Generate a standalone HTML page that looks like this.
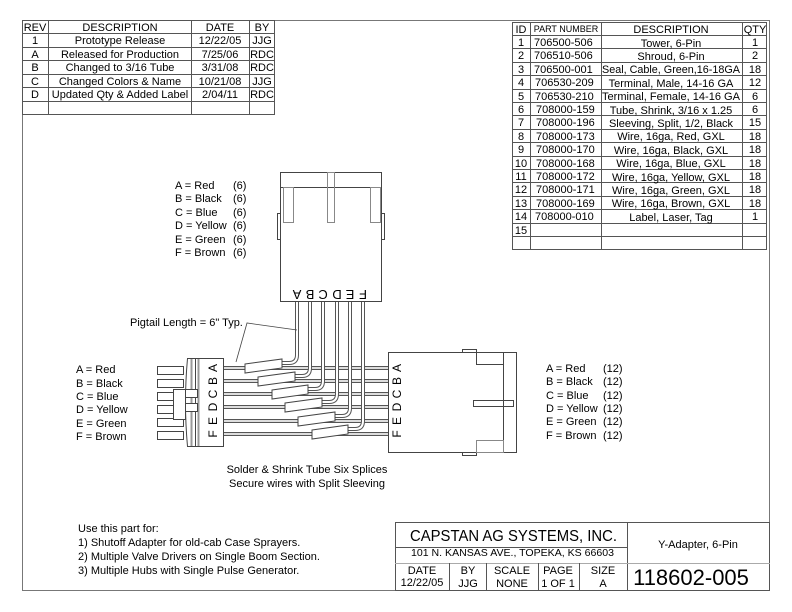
<!DOCTYPE html>
<html><head><meta charset="utf-8"><style>
html,body{margin:0;padding:0;background:#fff;}
svg{display:block;font-family:"Liberation Sans",sans-serif;}
text{fill:#000;}
</style></head><body>
<svg width="792" height="612" viewBox="0 0 792 612" xmlns="http://www.w3.org/2000/svg">
<!-- frame -->
<rect x="22.5" y="20.5" width="747" height="570" fill="none" stroke="#777" stroke-width="1"/>

<!-- REV table -->
<g stroke="#555" stroke-width="1" fill="none">
<rect x="22.5" y="20.5" width="252" height="94"/>
<line x1="48.5" y1="20" x2="48.5" y2="115"/>
<line x1="191.5" y1="20" x2="191.5" y2="115"/>
<line x1="249.5" y1="20" x2="249.5" y2="115"/>
<line x1="22" y1="33.5" x2="275" y2="33.5"/>
<line x1="22" y1="47.5" x2="275" y2="47.5"/>
<line x1="22" y1="60.5" x2="275" y2="60.5"/>
<line x1="22" y1="74.5" x2="275" y2="74.5"/>
<line x1="22" y1="87.5" x2="275" y2="87.5"/>
<line x1="22" y1="101.5" x2="275" y2="101.5"/>
</g>
<g font-size="11" text-anchor="middle">
<text x="35" y="31">REV</text><text x="120" y="31">DESCRIPTION</text><text x="220" y="31">DATE</text><text x="262" y="31">BY</text>
<text x="35" y="44">1</text><text x="120" y="44">Prototype Release</text><text x="220" y="44">12/22/05</text><text x="262" y="44">JJG</text>
<text x="35" y="58">A</text><text x="120" y="58">Released for Production</text><text x="220" y="58">7/25/06</text><text x="262" y="58">RDC</text>
<text x="35" y="71">B</text><text x="120" y="71">Changed to 3/16 Tube</text><text x="220" y="71">3/31/08</text><text x="262" y="71">RDC</text>
<text x="35" y="85">C</text><text x="120" y="85">Changed Colors &amp; Name</text><text x="220" y="85">10/21/08</text><text x="262" y="85">JJG</text>
<text x="35" y="98">D</text><text x="120" y="98">Updated Qty &amp; Added Label</text><text x="220" y="98">2/04/11</text><text x="262" y="98">RDC</text>
</g>

<!-- Parts table -->
<g stroke="#555" stroke-width="1" fill="none">
<rect x="512.5" y="22.5" width="254" height="227"/>
<line x1="530.5" y1="22" x2="530.5" y2="250"/>
<line x1="601.5" y1="22" x2="601.5" y2="250"/>
<line x1="742.5" y1="22" x2="742.5" y2="250"/>
<line x1="512" y1="35.5" x2="767" y2="35.5"/>
<line x1="512" y1="48.5" x2="767" y2="48.5"/>
<line x1="512" y1="62.5" x2="767" y2="62.5"/>
<line x1="512" y1="75.5" x2="767" y2="75.5"/>
<line x1="512" y1="89.5" x2="767" y2="89.5"/>
<line x1="512" y1="102.5" x2="767" y2="102.5"/>
<line x1="512" y1="115.5" x2="767" y2="115.5"/>
<line x1="512" y1="129.5" x2="767" y2="129.5"/>
<line x1="512" y1="142.5" x2="767" y2="142.5"/>
<line x1="512" y1="156.5" x2="767" y2="156.5"/>
<line x1="512" y1="169.5" x2="767" y2="169.5"/>
<line x1="512" y1="182.5" x2="767" y2="182.5"/>
<line x1="512" y1="196.5" x2="767" y2="196.5"/>
<line x1="512" y1="209.5" x2="767" y2="209.5"/>
<line x1="512" y1="223.5" x2="767" y2="223.5"/>
<line x1="512" y1="236.5" x2="767" y2="236.5"/>
</g>
<g font-size="11">
<g text-anchor="middle">
<text x="521" y="33">ID</text><text x="566" y="32" font-size="9">PART NUMBER</text><text x="671" y="33">DESCRIPTION</text><text x="755" y="33">QTY</text>
<text x="521" y="46">1</text><text x="521" y="59">2</text><text x="521" y="73">3</text><text x="521" y="86">4</text><text x="521" y="100">5</text><text x="521" y="113">6</text><text x="521" y="126">7</text><text x="521" y="140">8</text><text x="521" y="153">9</text><text x="521" y="167">10</text><text x="521" y="180">11</text><text x="521" y="193">12</text><text x="521" y="207">13</text><text x="521" y="220">14</text><text x="521" y="234">15</text>
<text x="671" y="47">Tower, 6-Pin</text>
<text x="671" y="60">Shroud, 6-Pin</text>
<text x="671" y="73" textLength="138" lengthAdjust="spacingAndGlyphs">Seal, Cable, Green,16-18GA</text>
<text x="671" y="87">Terminal, Male, 14-16 GA</text>
<text x="671" y="100" textLength="138" lengthAdjust="spacingAndGlyphs">Terminal, Female, 14-16 GA</text>
<text x="671" y="114">Tube, Shrink, 3/16 x 1.25</text>
<text x="671" y="127">Sleeving, Split, 1/2, Black</text>
<text x="671" y="140">Wire, 16ga, Red, GXL</text>
<text x="671" y="154">Wire, 16ga, Black, GXL</text>
<text x="671" y="167">Wire, 16ga, Blue, GXL</text>
<text x="671" y="181">Wire, 16ga, Yellow, GXL</text>
<text x="671" y="194">Wire, 16ga, Green, GXL</text>
<text x="671" y="207">Wire, 16ga, Brown, GXL</text>
<text x="671" y="221">Label, Laser, Tag</text>
<text x="755" y="46">1</text><text x="755" y="59">2</text><text x="755" y="73">18</text><text x="755" y="86">12</text><text x="755" y="100">6</text><text x="755" y="113">6</text><text x="755" y="126">15</text><text x="755" y="140">18</text><text x="755" y="153">18</text><text x="755" y="167">18</text><text x="755" y="180">18</text><text x="755" y="193">18</text><text x="755" y="207">18</text><text x="755" y="220">1</text>
</g>
<g>
<text x="534" y="46">706500-506</text><text x="534" y="59">706510-506</text><text x="534" y="73">706500-001</text><text x="535" y="86">706530-209</text><text x="535" y="100">706530-210</text><text x="536" y="113">708000-159</text><text x="536" y="126">708000-196</text><text x="536" y="140">708000-173</text><text x="536" y="153">708000-170</text><text x="536" y="167">708000-168</text><text x="536" y="180">708000-172</text><text x="536" y="193">708000-171</text><text x="536" y="207">708000-169</text><text x="535" y="220">708000-010</text>
</g>
</g>

<!-- labels -->
<g font-size="11">
<text x="175" y="189">A = Red</text><text x="233" y="189">(6)</text>
<text x="175" y="202">B = Black</text><text x="233" y="202">(6)</text>
<text x="175" y="216">C = Blue</text><text x="233" y="216">(6)</text>
<text x="175" y="229">D = Yellow</text><text x="233" y="229">(6)</text>
<text x="175" y="243">E = Green</text><text x="233" y="243">(6)</text>
<text x="175" y="256">F = Brown</text><text x="233" y="256">(6)</text>
<text x="76" y="373">A = Red</text>
<text x="76" y="387">B = Black</text>
<text x="76" y="400">C = Blue</text>
<text x="76" y="413">D = Yellow</text>
<text x="76" y="427">E = Green</text>
<text x="76" y="440">F = Brown</text>
<text x="546" y="372">A = Red</text><text x="603" y="372">(12)</text>
<text x="546" y="385">B = Black</text><text x="603" y="385">(12)</text>
<text x="546" y="399">C = Blue</text><text x="603" y="399">(12)</text>
<text x="546" y="412">D = Yellow</text><text x="603" y="412">(12)</text>
<text x="546" y="425">E = Green</text><text x="603" y="425">(12)</text>
<text x="546" y="439">F = Brown</text><text x="603" y="439">(12)</text>
<text x="130" y="326">Pigtail Length = 6" Typ.</text>
<text x="307" y="473" text-anchor="middle">Solder &amp; Shrink Tube Six Splices</text>
<text x="307" y="487" text-anchor="middle">Secure wires with Split Sleeving</text>
<text x="78" y="532">Use this part for:</text>
<text x="78" y="546">1) Shutoff Adapter for old-cab Case Sprayers.</text>
<text x="78" y="560">2) Multiple Valve Drivers on Single Boom Section.</text>
<text x="78" y="574">3) Multiple Hubs with Single Pulse Generator.</text>
</g>

<!-- Top connector -->
<g stroke="#444" stroke-width="1" fill="none">
<rect x="280.5" y="172.5" width="101" height="129" fill="#fff"/>
<line x1="280" y1="187.5" x2="382" y2="187.5"/>
<rect x="283.5" y="187.5" width="10" height="35" stroke="#888"/>
<rect x="327.5" y="172.5" width="7" height="50" stroke="#888"/>
<rect x="370.5" y="187.5" width="10" height="35" stroke="#888"/>
<rect x="277.5" y="213.5" width="3" height="26"/>
<rect x="381.5" y="213.5" width="3" height="26"/>
</g>
<g font-size="13" text-anchor="middle">
<text transform="translate(297,290) rotate(180)">A</text>
<text transform="translate(310,290) rotate(180)">B</text>
<text transform="translate(323,290) rotate(180)">C</text>
<text transform="translate(337,290) rotate(180)">D</text>
<text transform="translate(350,290) rotate(180)">E</text>
<text transform="translate(363,290) rotate(180)">F</text>
</g>

<!-- horizontal wires -->
<g fill="none">
<g stroke="#555" stroke-width="4">
<line x1="223" y1="368" x2="388" y2="368"/><line x1="223" y1="381" x2="388" y2="381"/><line x1="223" y1="394" x2="388" y2="394"/><line x1="223" y1="407" x2="388" y2="407"/><line x1="223" y1="421" x2="388" y2="421"/><line x1="223" y1="434" x2="388" y2="434"/>
</g>
<g stroke="#ddd" stroke-width="2">
<line x1="223" y1="368" x2="388" y2="368"/><line x1="223" y1="381" x2="388" y2="381"/><line x1="223" y1="394" x2="388" y2="394"/><line x1="223" y1="407" x2="388" y2="407"/><line x1="223" y1="421" x2="388" y2="421"/><line x1="223" y1="434" x2="388" y2="434"/>
</g>
<!-- pigtails drawn on top -->
<g stroke="#555" stroke-width="4">
<path d="M282 363 H289 Q297 363 297 355 V302"/>
<path d="M295 376 H302 Q310 376 310 368 V302"/>
<path d="M308 389 H315 Q323 389 323 381 V302"/>
<path d="M322 402 H329 Q337 402 337 394 V302"/>
<path d="M335 416 H342 Q350 416 350 408 V302"/>
<path d="M348 429 H355 Q363 429 363 421 V302"/>
</g>
<g stroke="#fff" stroke-width="2">
<path d="M282 363 H289 Q297 363 297 355 V302"/>
<path d="M295 376 H302 Q310 376 310 368 V302"/>
<path d="M308 389 H315 Q323 389 323 381 V302"/>
<path d="M322 402 H329 Q337 402 337 394 V302"/>
<path d="M335 416 H342 Q350 416 350 408 V302"/>
<path d="M348 429 H355 Q363 429 363 421 V302"/>
</g>
</g>
<!-- splices -->
<g fill="#fff" stroke="#444" stroke-width="1">
<polygon points="245,364 282,359 282,368 245,373"/>
<polygon points="258,377 295,372 295,381 258,386"/>
<polygon points="272,390 308,385 308,394 272,399"/>
<polygon points="285,403 322,398 322,407 285,412"/>
<polygon points="298,417 335,412 335,421 298,426"/>
<polygon points="312,430 348,425 348,434 312,439"/>
</g>
<!-- leader -->
<polyline points="297,330 247,323 236,362" fill="none" stroke="#444" stroke-width="0.8"/>

<!-- Left connector -->
<g stroke="#444" stroke-width="1" fill="#fff">
<rect x="157.5" y="366.5" width="26" height="8"/><rect x="157.5" y="379.5" width="26" height="8"/><rect x="157.5" y="392.5" width="26" height="8"/><rect x="157.5" y="405.5" width="26" height="8"/><rect x="157.5" y="418.5" width="26" height="8"/><rect x="157.5" y="431.5" width="26" height="8"/>
<path d="M187.5 358.5 H223.5 V446.5 H187.5 Q183.5 402 187.5 358.5 Z"/>
<line x1="191.5" y1="359" x2="191.5" y2="446" stroke="#999" stroke-width="2"/>
<line x1="195.5" y1="359" x2="195.5" y2="446"/>
<line x1="198.5" y1="359" x2="198.5" y2="446" stroke="#999" stroke-width="2"/>
<rect x="173.5" y="389.5" width="12" height="30"/>
<rect x="185.5" y="389.5" width="12" height="8"/><rect x="185.5" y="403.5" width="12" height="8"/>
</g>
<g font-size="12" text-anchor="middle">
<text transform="translate(217,368) rotate(-90)">A</text>
<text transform="translate(217,381) rotate(-90)">B</text>
<text transform="translate(217,394) rotate(-90)">C</text>
<text transform="translate(217,407) rotate(-90)">D</text>
<text transform="translate(217,421) rotate(-90)">E</text>
<text transform="translate(217,434) rotate(-90)">F</text>
</g>

<!-- Right connector -->
<g stroke="#444" stroke-width="1" fill="none">
<rect x="462.5" y="349.5" width="14" height="3"/>
<rect x="462.5" y="452.5" width="14" height="3"/>
<rect x="388.5" y="352.5" width="128" height="100" fill="#fff"/>
<line x1="503.5" y1="352" x2="503.5" y2="453"/>
<rect x="476.5" y="352.5" width="27" height="12"/>
<rect x="476.5" y="440.5" width="27" height="12" stroke="#888"/>
<rect x="473.5" y="400.5" width="40" height="6"/>
</g>
<g font-size="12" text-anchor="middle">
<text transform="translate(401,368) rotate(-90)">A</text>
<text transform="translate(401,381) rotate(-90)">B</text>
<text transform="translate(401,394) rotate(-90)">C</text>
<text transform="translate(401,407) rotate(-90)">D</text>
<text transform="translate(401,421) rotate(-90)">E</text>
<text transform="translate(401,434) rotate(-90)">F</text>
</g>

<!-- Title block -->
<g stroke="#555" stroke-width="1" fill="none">
<rect x="395.5" y="522.5" width="374" height="68"/>
<line x1="627.5" y1="522" x2="627.5" y2="591"/>
<line x1="395" y1="547.5" x2="627" y2="547.5"/>
<line x1="395" y1="563.5" x2="627" y2="563.5" stroke="#aaa"/>
<line x1="627" y1="563.5" x2="770" y2="563.5" stroke="#aaa"/>
<line x1="449.5" y1="563" x2="449.5" y2="591"/>
<line x1="486.5" y1="563" x2="486.5" y2="591"/>
<line x1="538.5" y1="563" x2="538.5" y2="591"/>
<line x1="579.5" y1="563" x2="579.5" y2="591"/>
</g>
<g>
<text x="410" y="541" font-size="16" textLength="207" lengthAdjust="spacingAndGlyphs">CAPSTAN AG SYSTEMS, INC.</text>
<text x="411" y="556" font-size="10" textLength="203" lengthAdjust="spacingAndGlyphs">101 N. KANSAS AVE., TOPEKA, KS 66603</text>
<g text-anchor="middle">
<text x="698" y="548" font-size="11">Y-Adapter, 6-Pin</text>
<text x="691" y="585" font-size="22">118602-005</text>
<g font-size="11">
<text x="422" y="574">DATE</text><text x="468" y="574">BY</text><text x="512" y="574">SCALE</text><text x="558" y="574">PAGE</text><text x="603" y="574">SIZE</text>
<text x="422" y="586">12/22/05</text><text x="468" y="587">JJG</text><text x="512" y="587">NONE</text><text x="558" y="587">1 OF 1</text><text x="603" y="587">A</text>
</g>
</g>
</g>
</svg>
</body></html>
